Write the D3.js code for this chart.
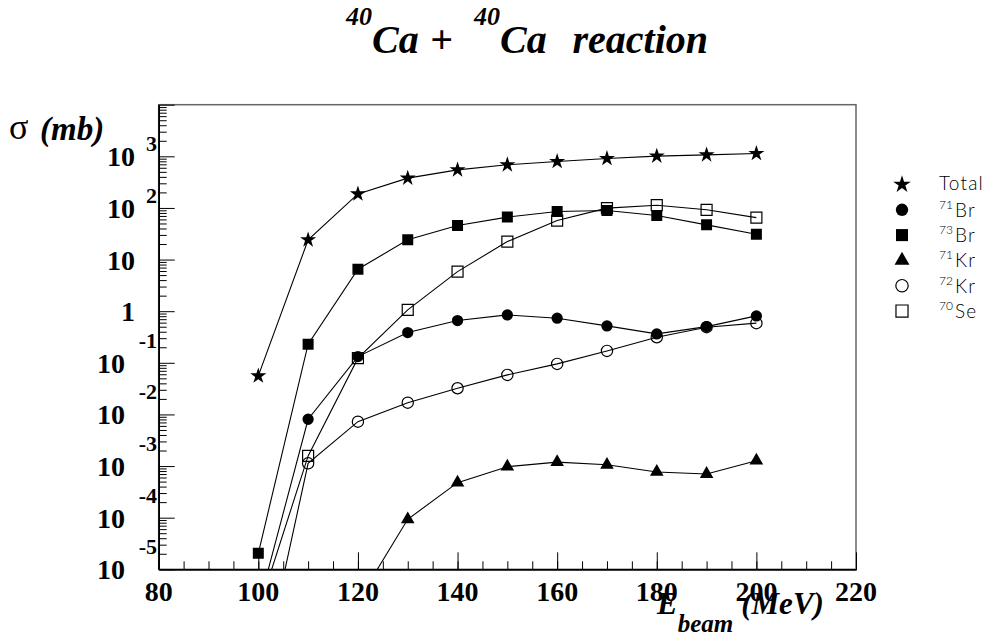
<!DOCTYPE html>
<html>
<head>
<meta charset="utf-8">
<script src="https://cdn.jsdelivr.net/npm/d3@7"></script>
<style>
  body { margin: 0; background: #fff; }
  svg { display: block; }
  .serif { font-family: "Liberation Serif", "Times New Roman", serif; font-weight: bold; }
  .legend-text { font-family: Lato, "DejaVu Sans", sans-serif; font-weight: 300; }
</style>
</head>
<body>
<svg id="chart" width="997" height="643"></svg>
<script>
// beam energies (MeV)
var energies = [100, 110, 120, 130, 140, 150, 160, 170, 180, 190, 200];

// cross sections (mb), null = no point
var total = [0.0557, 24.1, 187, 378, 547, 685, 793, 906, 1009, 1069, 1132];
var br71  = [1.86e-6, 8.07e-3, 0.132, 0.385, 0.658, 0.847, 0.731, 0.519, 0.363, 0.503, 0.811];
var br73  = [2.04e-5, 0.229, 6.5, 24.1, 45.6, 66.4, 85.1, 89, 71.2, 47, 31];
var kr71  = [null, null, 2.41e-6, 9.3e-5, 4.77e-4, 9.73e-4, 1.19e-3, 1.06e-3, 7.69e-4, 7.03e-4, 1.27e-3];
var kr72  = [4.2e-8, 1.13e-3, 7.24e-3, 0.0169, 0.0322, 0.0583, 0.0953, 0.170, 0.313, 0.49, 0.587];
var se70  = [1.56e-6, 1.57e-3, 0.123, 1.06, 5.85, 22.3, 57, 99, 113, 92, 65];

// legend entries
var legendMass  = ["", "71", "73", "71", "72", "70"];
var legendNames = ["Total", "Br", "Br", "Kr", "Kr", "Se"];

var xTicksMajor = [80, 100, 120, 140, 160, 180, 200, 220];
var yExponents  = [-5, -4, -3, -2, -1, 0, 1, 2, 3];

var series = [
  {values: total, symbol: d3.symbolStar,     size: 80,  filled: true},
  {values: br71,  symbol: d3.symbolCircle,   size: 100, filled: true},
  {values: br73,  symbol: d3.symbolSquare,   size: 121, filled: true},
  {values: kr71,  symbol: d3.symbolTriangle, size: 80,  filled: true},
  {values: kr72,  symbol: d3.symbolCircle,   size: 100, filled: false},
  {values: se70,  symbol: d3.symbolSquare,   size: 121, filled: false}
];

var plotL = 158.7, plotR = 856, plotT = 104.7, plotB = 569.3;

var x = d3.scaleLinear().domain([80, 220]).range([plotL, plotR]);
var y = d3.scaleLog().domain([1e-5, 1e4]).range([plotB, plotT]);

var svg = d3.select("#chart");

svg.append("defs").append("clipPath").attr("id", "plotclip")
  .append("rect")
  .attr("x", plotL).attr("y", plotT)
  .attr("width", plotR - plotL).attr("height", plotB - plotT);

// frame
svg.append("rect")
  .attr("x", plotL).attr("y", plotT)
  .attr("width", plotR - plotL).attr("height", plotB - plotT)
  .attr("fill", "none")
  .attr("stroke", "#666")
  .attr("stroke-width", 1.5);

// x axis: minor ticks every 5, major every 20, pointing up
var xMinor = d3.range(80, 221, 5);
svg.append("g")
  .attr("transform", "translate(0," + plotB + ")")
  .call(d3.axisTop(x).tickValues(xMinor).tickSize(8).tickSizeOuter(0).tickFormat(""));
svg.append("g")
  .attr("transform", "translate(0," + plotB + ")")
  .call(d3.axisTop(x).tickValues(xTicksMajor).tickSize(17).tickSizeOuter(0).tickFormat(""));

// y axis: minor ticks 2..9 of each decade, major at decades, pointing right
var yMinor = [];
d3.range(-5, 4).forEach(function(e) {
  for (var k = 2; k <= 9; k++) yMinor.push(k * Math.pow(10, e));
});
svg.append("g")
  .attr("transform", "translate(" + plotL + ",0)")
  .call(d3.axisRight(y).tickValues(yMinor).tickSize(8).tickSizeOuter(0).tickFormat(""));
svg.append("g")
  .attr("transform", "translate(" + plotL + ",0)")
  .call(d3.axisRight(y).tickValues(d3.range(-5, 5).map(function(e) { return Math.pow(10, e); }))
    .tickSize(16).tickSizeOuter(0).tickFormat(""));

svg.selectAll(".domain").attr("stroke", "#000").attr("stroke-width", 1.5);
svg.selectAll(".tick line").attr("stroke", "#000");

// x tick labels
svg.append("g").selectAll("text")
  .data(xTicksMajor)
  .enter()
  .append("text")
  .attr("class", "serif")
  .attr("x", function(d) { return x(d); })
  .attr("y", plotB + 32)
  .attr("text-anchor", "middle")
  .attr("font-size", 28)
  .text(function(d) { return d; });

// y tick labels, ROOT style "10" with exponent up-right
var yLab = svg.append("g");
yExponents.forEach(function(e) {
  var ty = y(Math.pow(10, e));
  if (e === 0 || e === 1) {
    yLab.append("text").attr("class", "serif")
      .attr("x", 135).attr("y", ty + 10)
      .attr("text-anchor", "end").attr("font-size", 28)
      .text(e === 0 ? "1" : "10");
  } else {
    var neg = e < 0;
    yLab.append("text").attr("class", "serif")
      .attr("x", neg ? 125 : 135).attr("y", ty + 10)
      .attr("text-anchor", "end").attr("font-size", 28)
      .text("10");
    yLab.append("text").attr("class", "serif")
      .attr("x", 157).attr("y", neg ? ty - 15 : ty - 5)
      .attr("text-anchor", "end").attr("font-size", 22)
      .text(neg ? "-" + (-e) : e);
  }
});

// data
var plot = svg.append("g").attr("clip-path", "url(#plotclip)");

var line = d3.line()
  .defined(function(d) { return d[1] != null; })
  .x(function(d) { return x(d[0]); })
  .y(function(d) { return y(d[1]); });

series.forEach(function(s) {
  var pts = energies.map(function(e, i) { return [e, s.values[i]]; });
  plot.append("path")
    .datum(pts)
    .attr("d", line)
    .attr("fill", "none")
    .attr("stroke", "#000")
    .attr("stroke-width", 1.1);
});

series.forEach(function(s) {
  var pts = energies.map(function(e, i) { return [e, s.values[i]]; })
    .filter(function(d) { return d[1] != null; });
  plot.append("g").selectAll("path")
    .data(pts)
    .enter()
    .append("path")
    .attr("d", d3.symbol().type(s.symbol).size(s.size))
    .attr("transform", function(d) { return "translate(" + x(d[0]) + "," + y(d[1]) + ")"; })
    .attr("fill", s.filled ? "#000" : "none")
    .attr("stroke", "#000")
    .attr("stroke-width", s.filled ? 0 : 1.2);
});

// legend
var legend = svg.append("g");
series.forEach(function(s, i) {
  var ly = 184.5 + i * 25.3;
  legend.append("path")
    .attr("d", d3.symbol().type(s.symbol).size(s.size * 1.2))
    .attr("transform", "translate(902," + ly + ")")
    .attr("fill", s.filled ? "#000" : "none")
    .attr("stroke", "#000")
    .attr("stroke-width", s.filled ? 0 : 1.2);
  if (legendMass[i] === "") {
    legend.append("text").attr("class", "legend-text")
      .attr("x", 939).attr("y", ly + 5).attr("font-size", 19)
      .attr("letter-spacing", 1.2)
      .text(legendNames[i]);
  } else {
    legend.append("text").attr("class", "legend-text")
      .attr("x", 939).attr("y", ly - 1).attr("font-size", 12)
      .text(legendMass[i]);
    legend.append("text").attr("class", "legend-text")
      .attr("x", 955).attr("y", ly + 7).attr("font-size", 19)
      .attr("letter-spacing", 1.2)
      .text(legendNames[i]);
  }
});

// title: 40Ca + 40Ca reaction
var tg = svg.append("g")
  .attr("class", "serif")
  .attr("font-style", "italic");
tg.append("text").attr("x", 346).attr("y", 25).attr("font-size", 26).text("40");
tg.append("text").attr("x", 372).attr("y", 53).attr("font-size", 40).text("Ca");
tg.append("text").attr("x", 430).attr("y", 53).attr("font-size", 40).text("+");
tg.append("text").attr("x", 474).attr("y", 25).attr("font-size", 26).text("40");
tg.append("text").attr("x", 500).attr("y", 53).attr("font-size", 40).text("Ca");
tg.append("text").attr("x", 708).attr("y", 53).attr("font-size", 40)
  .attr("text-anchor", "end").text("reaction");

// y axis title
svg.append("text")
  .attr("x", 9).attr("y", 139)
  .attr("font-family", "Liberation Serif, serif")
  .attr("font-size", 36)
  .text("σ");
svg.append("text")
  .attr("class", "serif")
  .attr("x", 40).attr("y", 140)
  .attr("font-style", "italic")
  .attr("font-size", 33)
  .text("(mb)");

// x axis title
var xt = svg.append("text")
  .attr("class", "serif")
  .attr("x", 657).attr("y", 614)
  .attr("font-style", "italic")
  .attr("font-size", 31);
xt.append("tspan").text("E");
xt.append("tspan").attr("font-size", 25).attr("dy", 18).text("beam");
xt.append("tspan").attr("dy", -18).attr("dx", 8).text("(MeV)");
</script>
</body>
</html>
